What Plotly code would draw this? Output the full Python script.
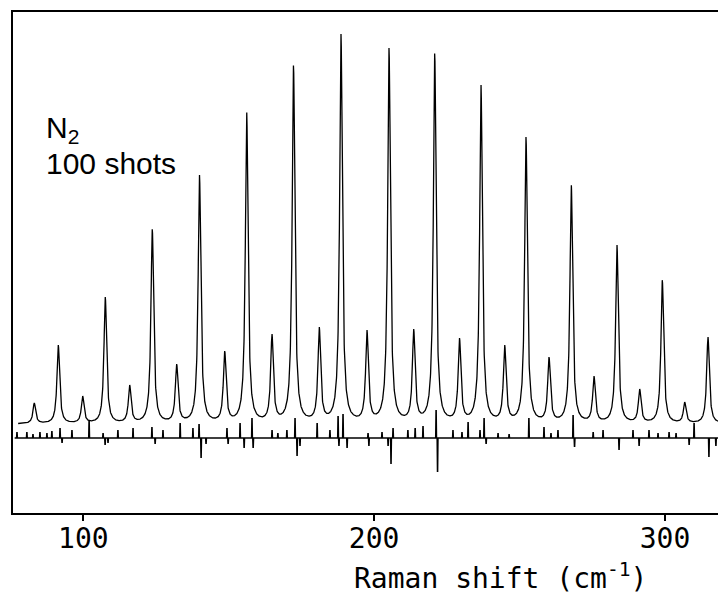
import numpy as np
import plotly.graph_objects as go

# Raman line positions (cm^-1) and peak tops (intensity, arbitrary units; residual zero = 0)
line_shift = [83.15, 91.40, 99.79, 107.56, 115.95, 123.72, 132.11, 139.95, 148.62, 156.18,
              164.88, 172.27, 181.14, 188.60, 197.54, 205.11, 213.60, 220.82, 229.35, 236.74,
              244.89, 252.21, 260.12, 267.78, 275.59, 283.49, 291.30, 299.07, 306.77, 314.78,
              322.60]
line_top = [35, 93, 42, 141, 53, 209, 74, 263, 87, 326,
            104, 373, 111, 404, 108, 390, 109, 385, 100, 353,
            93, 301, 81, 253, 62, 193, 49, 158, 36, 101,
            28]

# Residual (measured - fit) spikes: positions (cm^-1) and amplitudes
resid_shift = [77.2, 80.6, 82.7, 85.1, 87.5, 89.2, 92.0, 92.7, 96.1, 102.0,
               106.8, 107.5, 108.5, 111.9, 117.1, 123.6, 124.7, 127.4, 133.3, 137.7,
               139.8, 140.5, 142.2, 149.4, 149.8, 153.9, 155.3, 158.0, 158.4, 164.9,
               166.9, 170.0, 172.8, 173.5, 174.5, 180.4, 184.8, 187.6, 187.9, 189.3,
               190.7, 197.9, 198.2, 202.7, 204.8, 205.8, 206.5, 211.6, 214.1, 216.8,
               221.3, 221.8, 227.1, 230.2, 232.3, 236.4, 237.8, 238.5, 242.6, 246.4,
               253.2, 258.4, 260.8, 263.2, 268.4, 268.9, 275.3, 278.7, 284.2, 289.0,
               291.1, 294.5, 297.6, 301.4, 303.8, 308.3, 310.0, 315.1, 317.5, 319.9]
resid_amp = [6, 6, 4, 6, 5, 7, 10, -5, 8, 18,
             5, -7, -5, 8, 10, 11, -6, 8, 15, 10,
             14, -20, -6, 10, -6, 15, -10, 20, -10, 8,
             5, 8, 20, -18, -8, 15, 8, 22, -8, 24,
             -10, 5, -8, 6, -8, -26, 10, 8, 10, 12,
             28, -34, 8, 6, 16, 8, 20, -6, 5, 4,
             20, 11, 5, 8, 23, -9, 6, 8, -12, 8,
             -8, 8, 5, 6, 5, -7, 15, -19, -8, 6]

tick_values = [100, 200, 300]
tick_text = ["100", "200", "300"]
label_species = "N<sub>2</sub>"
label_shots = "100 shots"
x_title = "Raman shift (cm<sup>-1</sup>)"

# ---- build spectrum from the read line list (Lorentzian profiles on a flat baseline)
baseline = 14.0
hwhm = 0.55
pos = np.array(line_shift, dtype=float)
top = np.array(line_top, dtype=float)
M = hwhm**2 / (hwhm**2 + (pos[:, None] - pos[None, :])**2)
amp = np.linalg.solve(M, top - baseline)
grid = np.arange(77.6, 321.0, 0.05)
spec = baseline + (amp[None, :] * hwhm**2 /
                   (hwhm**2 + (grid[:, None] - pos[None, :])**2)).sum(axis=1)

# ---- residual trace from spikes
d = 0.12
rx, ry = [76.4], [0.0]
for s, a in sorted(zip(resid_shift, resid_amp)):
    rx += [s - d, s, s + d]
    ry += [0.0, a, 0.0]
rx.append(321.0)
ry.append(0.0)

MONO = "DejaVu Sans Mono"
SANS = "Liberation Sans"

fig = go.Figure()
fig.add_trace(go.Scatter(x=rx, y=ry, mode="lines",
                         line=dict(color="black", width=1.6), hoverinfo="skip"))
fig.add_trace(go.Scatter(x=grid, y=spec, mode="lines",
                         line=dict(color="black", width=1.3), hoverinfo="skip"))

# page has an 8px body margin: figure is sized/offset to compensate
fig.update_layout(
    width=718, height=592,
    margin=dict(l=5, r=0, t=4, b=87, autoexpand=False),
    paper_bgcolor="white", plot_bgcolor="white",
    showlegend=False,
    xaxis=dict(range=[75.83, 320.97], showline=True, linecolor="black", linewidth=2,
               mirror=True, ticks="outside", ticklen=6, tickwidth=1.5, tickcolor="black",
               tickvals=tick_values, ticktext=tick_text, showgrid=False, zeroline=False,
               ticklabelstandoff=-7,
               tickfont=dict(family=MONO, size=28, color="black")),
    yaxis=dict(range=[-75, 426], showline=True, linecolor="black", linewidth=2,
               showticklabels=False, ticks="", showgrid=False, zeroline=False),
    annotations=[
        dict(text=label_species, xref="paper", yref="paper", x=0.043, y=0.766,
             xanchor="left", yanchor="middle", showarrow=False,
             font=dict(family=SANS, size=30, color="black")),
        dict(text=label_shots, xref="paper", yref="paper", x=0.043, y=0.698,
             xanchor="left", yanchor="middle", showarrow=False,
             font=dict(family=SANS, size=30, color="black")),
        dict(text=x_title, xref="paper", yref="paper", x=0.684, y=-0.126,
             xanchor="center", yanchor="middle", showarrow=False,
             font=dict(family=MONO, size=28, color="black")),
    ],
)

fig.write_html("out.html")
